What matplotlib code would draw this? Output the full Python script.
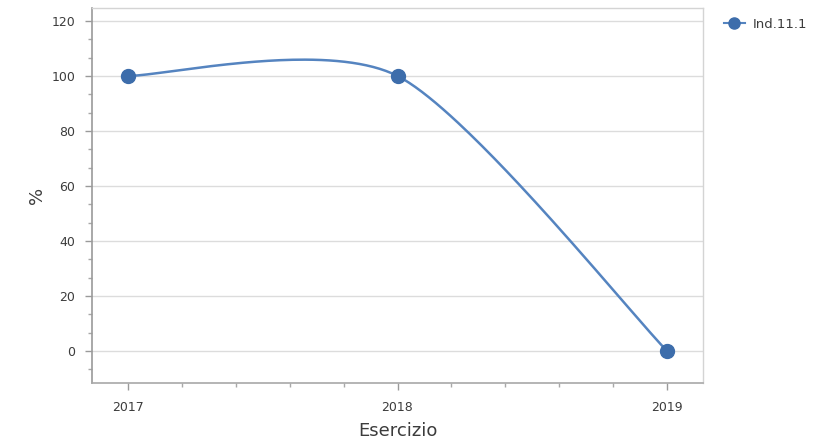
import numpy as np
import matplotlib
matplotlib.use("Agg")
import matplotlib.pyplot as plt
from matplotlib.ticker import MultipleLocator
from matplotlib.lines import Line2D

years = [2017, 2018, 2019]
values = [100, 100, 0]
series_name = "Ind.11.1"
x_label = "Esercizio"
y_label = "%"

line_color = "#5584c0"
marker_color = "#3d6dab"

def cardinal_spline(xs, ys, k=0.8, n=80):
    xs = np.asarray(xs, float)
    ys = np.asarray(ys, float)
    P = np.column_stack([xs, ys])
    ext = np.vstack([P[0], P, P[-1]])
    out = []
    for i in range(len(P) - 1):
        p0, p1 = ext[i + 1], ext[i + 2]
        m0 = k * (ext[i + 2] - ext[i]) / 2
        m1 = k * (ext[i + 3] - ext[i + 1]) / 2
        t = np.linspace(0, 1, n)[:, None]
        h00 = 2 * t**3 - 3 * t**2 + 1
        h10 = t**3 - 2 * t**2 + t
        h01 = -2 * t**3 + 3 * t**2
        h11 = t**3 - t**2
        seg = h00 * p0 + h10 * m0 + h01 * p1 + h11 * m1
        out.append(seg if i == 0 else seg[1:])
    c = np.vstack(out)
    return c[:, 0], c[:, 1]

fig = plt.figure(figsize=(8.23, 4.46), dpi=100)
W, H = 823, 446
ax = fig.add_axes([92 / W, 1 - 383 / H, (703 - 92) / W, (383 - 8) / H])

sx, sy = cardinal_spline(years, values)
ax.plot(sx, sy, color=line_color, lw=1.8, zorder=3, solid_capstyle="round")
ax.plot(years, values, ls="none", marker="o", ms=10, color=marker_color, zorder=4)

ax.set_xlim(2016.867, 2019.133)
ax.set_ylim(-11.6, 124.7)
ax.set_xticks(years)
ax.set_xticklabels([str(y) for y in years])
ax.xaxis.set_minor_locator(MultipleLocator(0.2))
ax.set_yticks(np.arange(0, 121, 20))
ax.yaxis.set_minor_locator(MultipleLocator(20 / 3))

ax.grid(axis="y", which="major", color="#dcdcdc", lw=1)
ax.set_axisbelow(True)

for s in ["top", "right"]:
    ax.spines[s].set_color("#d4d4d4")
    ax.spines[s].set_linewidth(1)
ax.spines["left"].set_color("#9a9a9a")
ax.spines["bottom"].set_color("#a8a8a8")
ax.spines["left"].set_linewidth(1.2)
ax.spines["bottom"].set_linewidth(1.2)

ax.tick_params(axis="both", which="major", length=5, width=1, color="#9a9a9a",
               labelsize=9, labelcolor="#3c3c3c")
ax.tick_params(axis="both", which="minor", length=3, width=1, color="#a8a8a8")
ax.tick_params(axis="x", which="major", pad=8)
ax.tick_params(axis="y", which="major", pad=7)

ax.set_xlabel(x_label, fontsize=13, color="#3c3c3c", labelpad=6)
ax.set_ylabel(y_label, fontsize=13, color="#3c3c3c", labelpad=4)

handle = Line2D([], [], color=line_color, lw=1.5, marker="o", ms=8,
                markerfacecolor=marker_color, markeredgecolor=marker_color)
fig.legend([handle], [series_name], loc="upper left",
           bbox_to_anchor=(712 / W, 1 - 6 / H), frameon=False, fontsize=9.5,
           handlelength=1.6, handletextpad=0.6, labelcolor="#3c3c3c")

fig.savefig("out.png", dpi=100)
